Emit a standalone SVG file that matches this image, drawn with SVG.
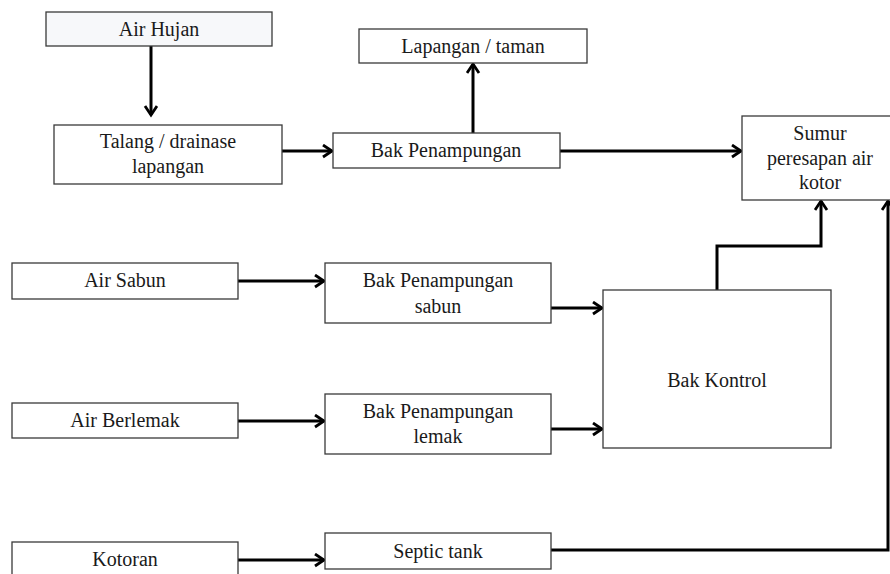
<svg xmlns="http://www.w3.org/2000/svg" width="890" height="574" viewBox="0 0 890 574">
  <style>
    .box { fill: #ffffff; stroke: #3a3a3a; stroke-width: 1.3; }
    .label { font-family: 'Liberation Serif', 'Times New Roman', serif; font-size: 20px; fill: #1a1a1a; text-anchor: middle; }
    .conn { fill: none; stroke: #000000; stroke-width: 3; stroke-linejoin: miter; }
  </style>
  <defs>
    <marker id="arrow" markerUnits="userSpaceOnUse" markerWidth="16" markerHeight="16" refX="11" refY="7" orient="auto">
      <path d="M2,1 L11,7 L2,13" fill="none" stroke="#000000" stroke-width="2.8"/>
    </marker>
  </defs>

  <rect width="890" height="574" fill="#ffffff"/>

  <g id="connectors">
    <path class="conn" d="M151,46 V115" marker-end="url(#arrow)"/>
    <path class="conn" d="M282,151 H332" marker-end="url(#arrow)"/>
    <path class="conn" d="M473,133 V64" marker-end="url(#arrow)"/>
    <path class="conn" d="M560,151 H741" marker-end="url(#arrow)"/>
    <path class="conn" d="M238,281 H324" marker-end="url(#arrow)"/>
    <path class="conn" d="M551,308 H602" marker-end="url(#arrow)"/>
    <path class="conn" d="M238,421 H324" marker-end="url(#arrow)"/>
    <path class="conn" d="M551,429 H602" marker-end="url(#arrow)"/>
    <path class="conn" d="M238,560 H324" marker-end="url(#arrow)"/>
    <path class="conn" d="M717,290 V246 H821 V201" marker-end="url(#arrow)"/>
    <path class="conn" d="M551,550 H888 V201" marker-end="url(#arrow)"/>
  </g>

  <g id="air-hujan">
    <rect class="box" x="46" y="12" width="226" height="34" style="fill:#f7f8fa"/>
    <text class="label" x="159" y="36">Air Hujan</text>
  </g>

  <g id="talang">
    <rect class="box" x="54" y="125" width="228" height="59"/>
    <text class="label" x="168" y="148">Talang / drainase</text>
    <text class="label" x="168" y="173">lapangan</text>
  </g>

  <g id="lapangan-taman">
    <rect class="box" x="359" y="29" width="228" height="34"/>
    <text class="label" x="473" y="53">Lapangan / taman</text>
  </g>

  <g id="bak-penampungan">
    <rect class="box" x="333" y="133" width="227" height="35"/>
    <text class="label" x="446" y="157">Bak Penampungan</text>
  </g>

  <g id="sumur">
    <rect class="box" x="742" y="116" width="160" height="84"/>
    <text class="label" x="820" y="140">Sumur</text>
    <text class="label" x="820" y="165">peresapan air</text>
    <text class="label" x="820" y="189">kotor</text>
  </g>

  <g id="air-sabun">
    <rect class="box" x="12" y="263" width="226" height="36"/>
    <text class="label" x="125" y="287">Air Sabun</text>
  </g>

  <g id="bak-sabun">
    <rect class="box" x="325" y="263" width="226" height="60"/>
    <text class="label" x="438" y="287">Bak Penampungan</text>
    <text class="label" x="438" y="313">sabun</text>
  </g>

  <g id="air-berlemak">
    <rect class="box" x="12" y="403" width="226" height="35"/>
    <text class="label" x="125" y="427">Air Berlemak</text>
  </g>

  <g id="bak-lemak">
    <rect class="box" x="325" y="394" width="226" height="60"/>
    <text class="label" x="438" y="418">Bak Penampungan</text>
    <text class="label" x="438" y="443">lemak</text>
  </g>

  <g id="bak-kontrol">
    <rect class="box" x="603" y="290" width="228" height="158"/>
    <text class="label" x="717" y="387">Bak Kontrol</text>
  </g>

  <g id="kotoran">
    <rect class="box" x="12" y="542" width="226" height="40"/>
    <text class="label" x="125" y="566">Kotoran</text>
  </g>

  <g id="septic-tank">
    <rect class="box" x="325" y="533" width="226" height="36"/>
    <text class="label" x="438" y="558">Septic tank</text>
  </g>
</svg>
